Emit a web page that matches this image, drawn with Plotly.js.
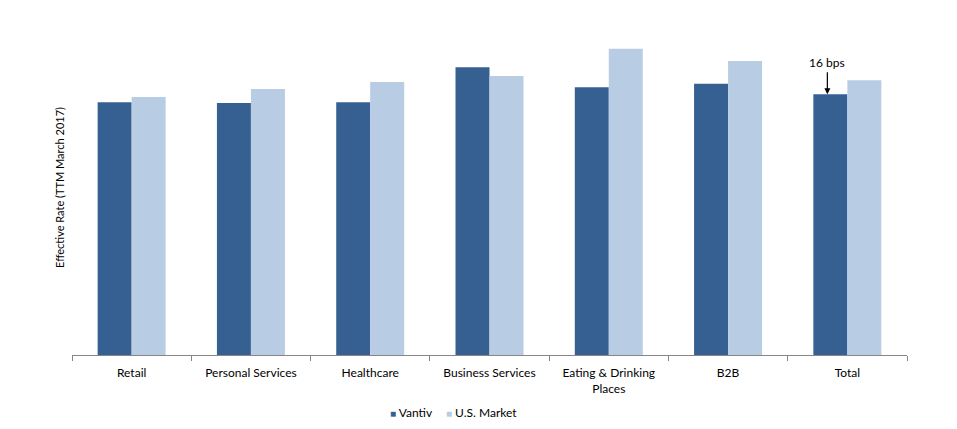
<!DOCTYPE html>
<html>
<head>
<meta charset="utf-8">
<script src="https://cdn.plot.ly/plotly-3.0.1.min.js"></script>
<style>html,body{margin:0;padding:0;background:#fff;}#chart{width:957px;height:429px;}</style>
</head>
<body>
<div id="chart"></div>
<script>
const categories = ["Retail", "Personal Services", "Healthcare", "Business Services", "Eating & Drinking<br>Places", "B2B", "Total"];
const vantiv = [2.89, 2.88, 2.89, 3.29, 3.06, 3.10, 2.98];
const usMarket = [2.95, 3.04, 3.12, 3.19, 3.50, 3.36, 3.14];
const seriesNames = ["Vantiv", "U.S. Market"];
const seriesColors = ["#366092", "#B8CCE4"];
const annotationText = "16 bps";

const traces = [
  {type: "bar", name: seriesNames[0], x: categories, y: vantiv, marker: {color: seriesColors[0]}, hoverinfo: "none"},
  {type: "bar", name: seriesNames[1], x: categories, y: usMarket, marker: {color: seriesColors[1]}, hoverinfo: "none"}
];

const legendItems = seriesNames.map((n, i) => ({
  xref: "paper", yref: "paper", x: [0.378, 0.446][i], y: -0.173, xanchor: "left", yanchor: "middle",
  showarrow: false, font: {size: 12, color: "#000"},
  text: "<span style='color:" + seriesColors[i] + ";font-size:10px'>■</span> " + n
}));

const layout = {
  width: 957, height: 429,
  margin: {l: 72, r: 50, t: 20, b: 74},
  paper_bgcolor: "#fff", plot_bgcolor: "#fff",
  font: {family: "Lato, 'Open Sans', sans-serif", size: 12, color: "#000"},
  barmode: "group", bargap: 0.43, bargroupgap: 0,
  showlegend: false,
  xaxis: {
    type: "category", automargin: false, showline: true, linecolor: "#868686", linewidth: 1,
    ticks: "outside", tickson: "boundaries", ticklen: 5, tickcolor: "#868686",
    ticklabelstandoff: 7,
    showgrid: false, zeroline: false, tickfont: {size: 12}
  },
  yaxis: {
    automargin: false,
    range: [0, 3.83], showticklabels: false, showgrid: false, zeroline: false, showline: false, ticks: "",
    title: {text: "Effective Rate (TTM March 2017)", font: {size: 11}, standoff: 4}
  },
  annotations: [{
    x: categories[6], y: vantiv[6], xref: "x", yref: "y", xshift: -20,
    text: annotationText, showarrow: true, arrowhead: 2, arrowsize: 1, arrowwidth: 1.2, arrowcolor: "#000",
    ax: 0, ay: -22, font: {size: 12, color: "#000"}, yanchor: "bottom"
  }].concat(legendItems)
};

Plotly.newPlot("chart", traces, layout, {displayModeBar: false, staticPlot: true});
</script>
</body>
</html>
